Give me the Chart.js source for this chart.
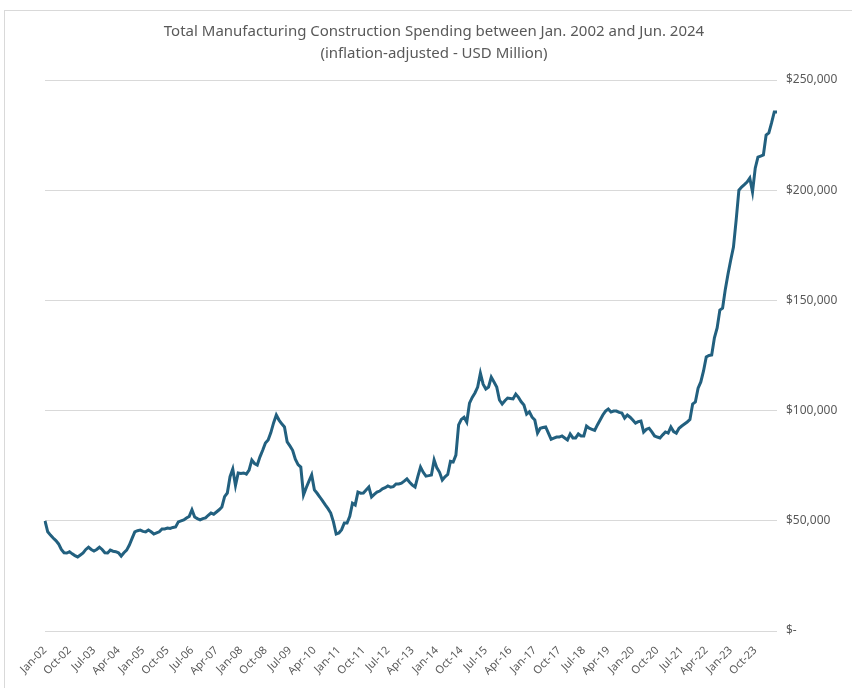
<!DOCTYPE html>
<html lang="en">
<head>
    <meta charset="UTF-8">
    <title>Manufacturing Construction Spending</title>
    <script src="https://cdn.jsdelivr.net/npm/chart.js"></script>
    <style>
        html, body {margin: 0; padding: 0; background: #fff;}
        #wrap {position: relative; width: 852px; height: 688px; overflow: hidden;}
        #frame {position: absolute; left: 4px; top: 10px; width: 900px; height: 700px;
                border-top: 1px solid #d9d9d9; border-left: 1px solid #d9d9d9;}
        #chart {position: absolute; left: 0; top: 0;}
        #title {position: absolute; left: 0; width: 868px; top: 19px; text-align: center;
                font-family: 'Noto Sans', sans-serif; font-size: 15px; line-height: 22px; color: #595959;}
    </style>
</head>
<body>
    <div id="wrap">
        <div id="frame"></div>
        <canvas id="chart" width="852" height="688"></canvas>
        <div id="title"></div>
    </div>
    <script>
        // monthly values, USD thousand million (x1000 = USD million)
        const v2002 = [50, 45, 43.5, 42.2, 41, 39.5, 37, 35.5, 35.4, 36, 35, 34.2];
        const v2003 = [33.6, 34.5, 35.4, 37, 38, 37, 36.3, 37, 38, 37, 35.5, 35.4];
        const v2004 = [36.7, 36.2, 36, 35.5, 34, 35.5, 36.7, 39, 42, 45, 45.5, 45.8];
        const v2005 = [45.2, 45, 45.8, 45, 44, 44.5, 45, 46.3, 46.3, 46.7, 46.5, 47];
        const v2006 = [47.2, 49.5, 50, 50.4, 51.3, 52, 55, 51.7, 51, 50.4, 51, 51.3];
        const v2007 = [52.5, 53.5, 53, 54, 55, 56.3, 61, 62.6, 70, 73.5, 66, 71.7];
        const v2008 = [71.5, 71.7, 71.2, 73, 77.6, 76, 75.3, 79, 82, 85.3, 86.7, 90];
        const v2009 = [94.4, 98, 95.7, 94, 92.6, 85.8, 84, 82, 78, 75.5, 74.4, 61.7];
        const v2010 = [65, 68, 70.8, 64, 62.5, 60.8, 59, 57.2, 55.5, 53.5, 49.5, 44];
        const v2011 = [44.5, 46, 49, 49, 52, 58, 57.2, 63, 62.5, 62.6, 64, 65.3];
        const v2012 = [60.8, 62, 63, 63.5, 64.5, 65, 65.8, 65.3, 65.5, 66.7, 66.7, 67.1];
        const v2013 = [68, 69, 67.5, 66.2, 65.3, 70, 74.4, 72, 70.3, 70.5, 70.8, 77.6];
        const v2014 = [74, 72, 68.5, 70, 71, 77, 76.7, 79.8, 93.5, 96, 97, 94.8];
        const v2015 = [103.4, 106, 108, 110.7, 117, 112, 109.8, 110.7, 115.2, 113, 110.7, 104.8];
        const v2016 = [103, 104.5, 105.7, 105.5, 105.3, 107.5, 106, 104, 102.5, 98.4, 99.4, 97];
        const v2017 = [95.7, 89.8, 92, 92.3, 92.6, 89.8, 87, 87.5, 88, 88, 88.5, 87.6];
        const v2018 = [86.7, 89.4, 87.6, 87.6, 89.4, 88.5, 88.5, 93, 92, 91.5, 91, 93.5];
        const v2019 = [95.7, 98, 99.8, 100.7, 99.4, 99.8, 99.8, 99.2, 98.9, 96.6, 98, 97];
        const v2020 = [95.7, 94.3, 95, 95.3, 90.3, 91.5, 92, 90.3, 88.5, 88, 87.6, 89];
        const v2021 = [90.3, 89.8, 92.6, 90.5, 89.8, 92, 93, 93.9, 94.8, 96, 103, 103.9];
        const v2022 = [110.2, 113, 118, 124.3, 125, 125.2, 133, 137.5, 145.6, 146.5, 155, 162];
        const v2023 = [168.3, 174.2, 186.5, 200, 201.4, 202.5, 203.7, 205.5, 199.2, 210, 215, 215.5];
        const v2024 = [216, 225, 226, 230.5, 235.5, 235.5];

        const monthNames = ['Jan', 'Feb', 'Mar', 'Apr', 'May', 'Jun', 'Jul', 'Aug', 'Sep', 'Oct', 'Nov', 'Dec'];
        const yTicks = [0, 50000, 100000, 150000, 200000, 250000];
        const titleLines = [
            'Total Manufacturing Construction Spending between Jan. 2002 and Jun. 2024',
            '(inflation-adjusted - USD Million)'
        ];

        const yearly = [v2002, v2003, v2004, v2005, v2006, v2007, v2008, v2009, v2010, v2011, v2012,
            v2013, v2014, v2015, v2016, v2017, v2018, v2019, v2020, v2021, v2022, v2023, v2024];

        let labels = [];
        let values = [];
        yearly.forEach((arr, y) => {
            arr.forEach((v, m) => {
                labels.push(monthNames[m] + '-' + String(2 + y).padStart(2, '0'));
                values.push(v * 1000);
            });
        });

        // title as page text, centred like the original
        const titleEl = document.getElementById('title');
        titleLines.forEach((t) => {
            const d = document.createElement('div');
            d.textContent = t;
            titleEl.appendChild(d);
        });

        const grey = '#595959';

        new Chart(document.getElementById('chart'), {
            type: 'line',
            data: {
                labels: labels,
                datasets: [{
                    data: values,
                    borderColor: '#22607f',
                    borderWidth: 3,
                    pointRadius: 0,
                    tension: 0,
                    fill: false
                }]
            },
            options: {
                responsive: false,
                animation: false,
                layout: {padding: {left: 45, right: 0, top: 80, bottom: 7}},
                plugins: {
                    legend: {display: false},
                    tooltip: {enabled: false},
                    title: {display: false}
                },
                scales: {
                    x: {
                        grid: {display: false},
                        border: {display: false},
                        ticks: {
                            autoSkip: false,
                            minRotation: 45,
                            maxRotation: 45,
                            padding: 5,
                            color: grey,
                            font: {family: 'Noto Sans', size: 11},
                            callback: function(val, idx) {
                                return idx % 9 === 0 ? this.getLabelForValue(val) : null;
                            }
                        },
                        afterFit: (s) => { s.height = 50; }
                    },
                    y: {
                        position: 'right',
                        min: 0,
                        max: 250000,
                        afterBuildTicks: (s) => { s.ticks = yTicks.map(v => ({value: v})); },
                        grid: {color: '#d9d9d9', lineWidth: 1, drawTicks: false},
                        border: {display: false},
                        ticks: {
                            padding: 9,
                            color: grey,
                            font: {family: 'Noto Sans', size: 12},
                            callback: (v) => v === 0 ? '$-' : '$' + v.toLocaleString('en-US')
                        },
                        afterFit: (s) => { s.width = 75; }
                    }
                }
            }
        });
    </script>
</body>
</html>
